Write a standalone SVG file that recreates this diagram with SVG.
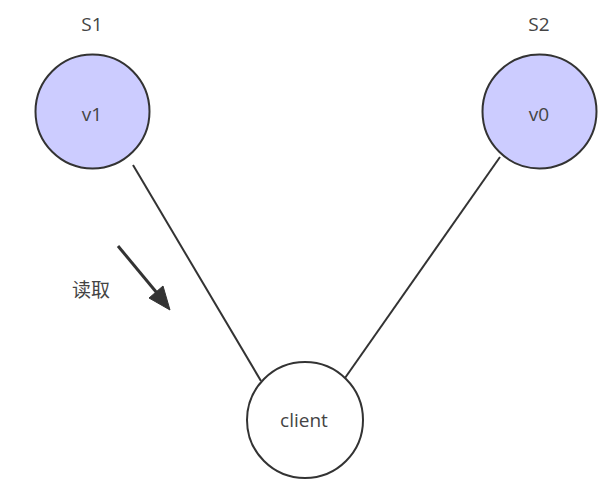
<svg xmlns="http://www.w3.org/2000/svg" width="614" height="488" viewBox="0 0 614 488">
<style>
.node{stroke:#333;stroke-width:2}
.srv{fill:#ccccff}
.cli{fill:#fff}
.t{font-family:"Open Sans","Noto Sans","Noto Sans CJK SC",sans-serif;font-size:19px;fill:#444;text-anchor:middle;dominant-baseline:central}
.edge{stroke:#333;stroke-width:2;fill:none}
</style>
<rect width="614" height="488" fill="#fff"/>
<g id="connectors">
<line class="edge" x1="133" y1="165" x2="261" y2="381"/>
<line class="edge" x1="500" y1="157" x2="345" y2="378"/>
<path d="M118,246 L157,293" stroke="#333" stroke-width="3" fill="none"/>
<path d="M149,298 L170,310 L163,286 Z" fill="#333" stroke="#333" stroke-width="1" stroke-linejoin="round"/>
</g>
<g id="S1">
<circle class="node srv" cx="92.5" cy="111.5" r="57"/>
<text class="t" x="92" y="114">v1</text>
<text class="t" x="92" y="24">S1</text>
</g>
<g id="S2">
<circle class="node srv" cx="539.5" cy="111.5" r="57"/>
<text class="t" x="539" y="114">v0</text>
<text class="t" x="539" y="24">S2</text>
</g>
<g id="client">
<circle class="node cli" cx="305" cy="420" r="58"/>
<text class="t" x="304" y="420">client</text>
</g>
<g id="label">
<text class="t" x="91" y="290">读取</text>
</g>
</svg>
